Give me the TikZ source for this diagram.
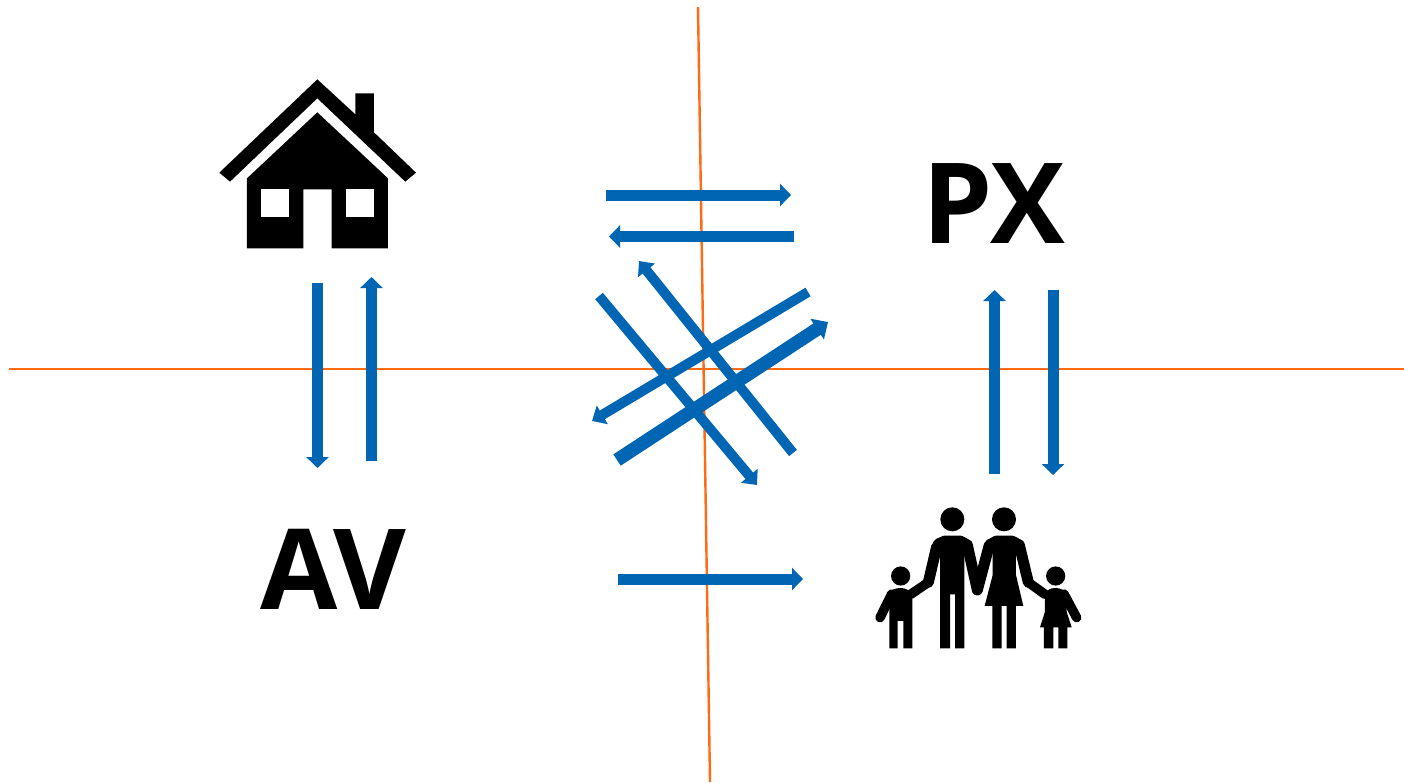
\documentclass[tikz,border=0pt]{standalone}
\usepackage{fontspec}
\setmainfont{Open Sans}
\usetikzlibrary{arrows.meta}

\begin{document}
\begin{tikzpicture}[
			x=1pt, y=-1pt,
			axis/.style={draw=axisorange, line width=2.4pt},
			flow/.style={draw=flowblue, line width=11pt, -{Triangle[length=11pt,width=22pt]}},
			flowthin/.style={flow, line width=10pt, -{Triangle[length=12pt,width=21pt]}},
			flowthick/.style={flow, line width=13.5pt, -{Triangle[length=13pt,width=24pt]}},
			bigtext/.style={font=\fontsize{112}{120}\selectfont\bfseries, inner sep=0pt},
			limb/.style={draw=black, line width=9.5pt, line cap=round, line join=round},
			biglimb/.style={limb, line width=11pt}
			]
			\definecolor{axisorange}{HTML}{FF6A13}
			\definecolor{flowblue}{HTML}{0066B3}
			\useasboundingbox (0,0) rectangle (1404,782);
			
			% Ejes
			\coordinate (leftend) at (9,369);
			\coordinate (rightend) at (1404,369);
			\coordinate (topend) at (698,7);
			\coordinate (bottomend) at (710,782);
			\path [axis] (leftend) -- (rightend);
			\path [axis] (topend) -- (bottomend);
			
			% Textos
			\node [bigtext] (px) at (994,204) {PX};
			\node [bigtext] (av) at (333,569) {AV};
			
			% Casa
			\begin{scope}[shift={(200,60)}, x=0.3333pt, y=-0.3333pt]
				\fill (58,338) -- (352,58) -- (466,163) -- (466,100) -- (522,100) -- (522,217) -- (648,338) -- (616,365) -- (352,115) -- (90,365) -- cycle;
				\fill (352,157) -- (564,355) -- (564,565) -- (395,565) -- (395,388) -- (310,388) -- (310,565) -- (141,565) -- (141,355) -- cycle;
				\fill [white] (183,388) rectangle (268,472);
				\fill [white] (437,388) rectangle (522,472);
			\end{scope}
			
			% Familia
			\begin{scope}[shift={(860,495)}, x=0.3333pt, y=-0.3333pt]
				% Cabezas
				\fill (122,243) circle (9.6pt);
				\fill (277,73) circle (12pt);
				\fill (432,73) circle (12pt);
				\fill (587,243) circle (9.6pt);
				% Nino
				\fill (88,460) -- (113,460) -- (113,378) -- (130,378) -- (130,460) -- (157,460) -- (157,300) .. controls (150,285) and (135,279) .. (122,279) .. controls (105,279) and (92,285) .. (88,300) -- cycle;
				\draw [limb] (95,297) -- (60,368);
				\draw [limb] (152,298) -- (205,262);
				\draw [biglimb] (205,262) -- (230,155);
				% Padre
				\fill (240,460) -- (270,460) -- (270,298) -- (285,298) -- (285,460) -- (313,460) -- (313,150) .. controls (313,133) and (295,124) .. (277,124) .. controls (258,124) and (240,133) .. (240,150) -- cycle;
				\draw [biglimb] (235,147) -- (255,138) -- (300,138) -- (322,150) -- (352,285);
				% Madre
				\fill (397,460) -- (425,460) -- (425,333) -- (440,333) -- (440,460) -- (468,460) -- (468,333) -- (490,333) -- (468,240) -- (468,150) .. controls (468,133) and (450,124) .. (432,124) .. controls (415,124) and (398,133) .. (398,150) -- (398,240) -- (374,333) -- (397,333) -- cycle;
				\draw [biglimb] (352,285) -- (388,150) -- (410,138) -- (455,138) -- (478,150) -- (505,262);
				\draw [limb] (505,262) -- (555,298);
				% Nina
				\fill (552,460) -- (580,460) -- (580,397) -- (595,397) -- (595,460) -- (622,460) -- (622,397) -- (635,397) -- (620,350) -- (620,300) .. controls (615,285) and (600,279) .. (587,279) .. controls (570,279) and (560,285) .. (555,300) -- (555,350) -- (540,397) -- (552,397) -- cycle;
				\draw [limb] (612,297) -- (650,368);
			\end{scope}
			
			% Puntos de las flechas
			\coordinate (hometopx) at (606,195);
			\coordinate (pxarrive) at (791,195);
			\coordinate (pxtohome) at (794,236.5);
			\coordinate (homearrive) at (609,236.5);
			\coordinate (dstart) at (793,453);
			\coordinate (dend) at (639,261);
			\coordinate (estart) at (599,296);
			\coordinate (eend) at (757,485);
			\coordinate (fstart) at (808,292);
			\coordinate (fend) at (592,421);
			\coordinate (gstart) at (617,460);
			\coordinate (gend) at (828,322);
			\coordinate (ustart) at (317.5,283);
			\coordinate (uend) at (317.5,468);
			\coordinate (vstart) at (371.5,461);
			\coordinate (vend) at (371.5,277);
			\coordinate (wstart) at (994.5,474);
			\coordinate (wend) at (994.5,290);
			\coordinate (zstart) at (1053,290);
			\coordinate (zend) at (1053,475);
			\coordinate (avstart) at (618,579);
			\coordinate (avend) at (803,579);
			
			% Flechas
			\path [flow] (hometopx) -- (pxarrive);
			\path [flow] (pxtohome) -- (homearrive);
			\path [flowthin] (estart) -- (eend);
			\path [flowthin] (dstart) -- (dend);
			\path [flowthin] (fstart) -- (fend);
			\path [flowthick] (gstart) -- (gend);
			\path [flow] (ustart) -- (uend);
			\path [flow] (vstart) -- (vend);
			\path [flow] (wstart) -- (wend);
			\path [flow] (zstart) -- (zend);
			\path [flow] (avstart) -- (avend);
		\end{tikzpicture}
\end{document}
